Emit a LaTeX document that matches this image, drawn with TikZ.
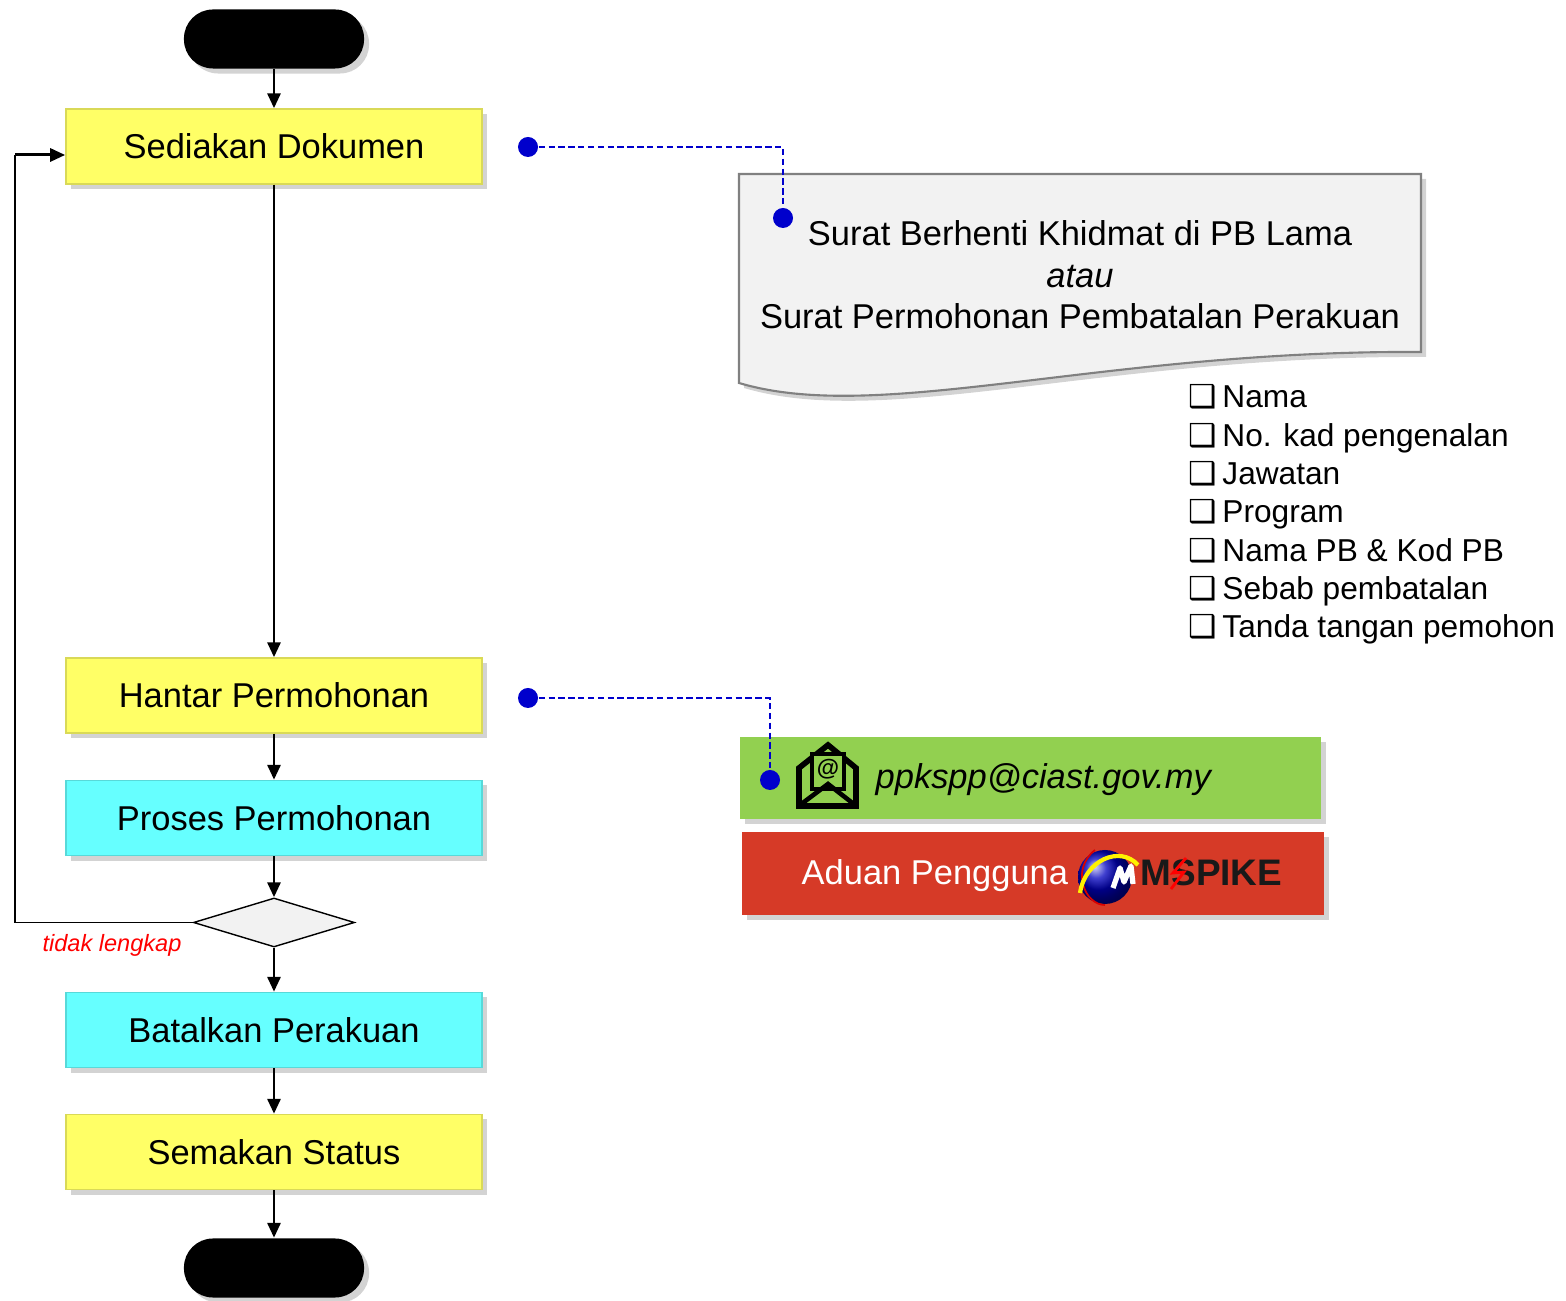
\documentclass[tikz,border=0pt]{standalone}
\usepackage{fontspec}
\setmainfont{Liberation Sans}
\newfontfamily\boxfont{DejaVu Sans}
\usepackage{tikz}
\usetikzlibrary{arrows.meta, shapes.geometric, shadows, positioning}

\definecolor{kuning}{HTML}{FFFF66}
\definecolor{biru}{HTML}{66FFFF}
\definecolor{hijau}{HTML}{92D050}
\definecolor{merah}{HTML}{D63A27}
\definecolor{kertas}{HTML}{F2F2F2}
\definecolor{titik}{HTML}{0000CC}

\tikzset{
  bayang/.style={drop shadow={shadow xshift=0.05cm, shadow yshift=-0.05cm, opacity=0.35}},
  kotak/.style={rectangle, fill=#1, draw=#1!85!black, line width=0.4pt, minimum width=4.16cm, minimum height=0.75cm, bayang, font=\fontsize{9.8}{11.8}\selectfont},
  hujung/.style={rectangle, rounded corners=0.29cm, fill=black, minimum width=1.8cm, minimum height=0.59cm, bayang},
  aliran/.style={-{Triangle[length=0.15cm, width=0.13cm]}, line width=0.85pt},
  titikbiru/.style={circle, fill=titik, inner sep=0pt, minimum size=0.2cm},
  garisputus/.style={titik, line width=0.5pt, dash pattern=on 1.8pt off 1pt},
}

\begin{document}
\begin{tikzpicture}[x=0.01cm, y=-0.01cm]
\useasboundingbox (0,0) rectangle (1566,1301);

% carta alir
\node[hujung] (mula) at (274,39) {};
\node[kotak=kuning] (sedia) at (274,146.5) {Sediakan Dokumen};
\node[kotak=kuning] (hantar) at (274,695.5) {Hantar Permohonan};
\node[kotak=biru] (proses) at (274,818) {Proses Permohonan};
\node[diamond, fill=kertas, draw, line width=0.4pt, inner sep=0pt, minimum width=1.61cm, minimum height=0.49cm] (semak) at (274,922.5) {};
\node[kotak=biru] (batal) at (274,1030) {Batalkan Perakuan};
\node[kotak=kuning] (status) at (274,1152) {Semakan Status};
\node[hujung] (tamat) at (274,1268) {};

\draw[aliran] (mula) -- (sedia);
\draw[aliran] (sedia) -- (hantar);
\draw[aliran] (hantar) -- (proses);
\draw[aliran] (proses) -- (semak);
\draw[aliran] (semak) -- (batal);
\draw[aliran] (batal) -- (status);
\draw[aliran] (status) -- (tamat);

\coordinate (balik) at (15,155);
\draw[line width=0.4pt] (semak.west) -| (balik);
\draw[aliran] (balik) -- (balik -| sedia.west);
\node[text=red, font=\itshape\fontsize{6.7}{8}\selectfont] (tidak) at (112,945) {tidak lengkap};

% dokumen
\draw[fill=kertas, draw=gray, line width=0.6pt, bayang] (739,174) -- (1421,174) -- (1421,352) .. controls (1100,350) and (880,425) .. (739,383) -- cycle;
\node[align=center, font=\fontsize{9.8}{11.8}\selectfont] (surat) at (1080,275) {Surat Berhenti Khidmat di PB Lama\\\textit{atau}\\Surat Permohonan Pembatalan Perakuan};

\node[titikbiru] (t1) at (528,147) {};
\node[titikbiru] (t2) at (783,218) {};
\draw[garisputus] (t1) -| (t2);

\foreach \txt [count=\i] in {Nama, No. kad pengenalan, Jawatan, Program, Nama PB \& Kod PB, Sebab pembatalan, Tanda tangan pemohon}
  \node[anchor=base west, inner sep=0pt, font=\fontsize{9}{10.8}\selectfont] (senarai\i) at (1188,{408+38.3*(\i-1)}) {\makebox[9.6pt][l]{\boxfont ❑}\txt};

% emel
\node[rectangle, fill=hijau, minimum width=5.81cm, minimum height=0.82cm, bayang] (emel) at (1030.5,778) {};
\draw[line width=1.6pt, line join=miter] (799,768) -- (828,745) -- (856,768) -- (856,806) -- (799,806) -- cycle;
\draw[line width=1.1pt, fill=hijau] (812,754) rectangle (844,789);
\draw[line width=1.3pt] (800,805) -- (828,784) -- (855,805);
\node[font=\bfseries\fontsize{6.5}{7}\selectfont, inner sep=0pt] (simbol) at (828,769) {@};
\node[anchor=west, inner sep=0pt, font=\itshape\fontsize{9.8}{11.8}\selectfont] (alamat) at (875,780) {ppkspp@ciast.gov.my};

\node[titikbiru] (t3) at (528,698) {};
\node[titikbiru] (t4) at (770,780) {};
\draw[garisputus] (t3) -| (t4);

% aduan
\node[rectangle, fill=merah, minimum width=5.82cm, minimum height=0.83cm, bayang] (aduan) at (1033,873.5) {};
\node[anchor=west, inner sep=0pt, text=white, font=\fontsize{9.8}{11.8}\selectfont] (aduanteks) at (801,876) {Aduan Pengguna};
\shade[ball color=blue!75!black] (1105,877) circle (27);
\draw[red!85!black, line width=0.5pt] (1095,850) .. controls (1070,870) and (1085,905) .. (1105,905);
\draw[yellow, line width=1.2pt] (1080,893) .. controls (1085,860) and (1120,845) .. (1138,865);
\draw[white, line width=1.5pt, line join=round] (1113,888) -- (1120,868) -- (1124,882) -- (1131,866) -- (1133,884);
\node[anchor=west, inner sep=0pt, text=black!90, font=\bfseries\fontsize{10.5}{12}\selectfont] (mspike) at (1140,873) {MSPIKE};
\draw[red, line width=0.8pt] (1186,858) -- (1173,873) -- (1184,872) -- (1171,889);

\end{tikzpicture}
\end{document}
